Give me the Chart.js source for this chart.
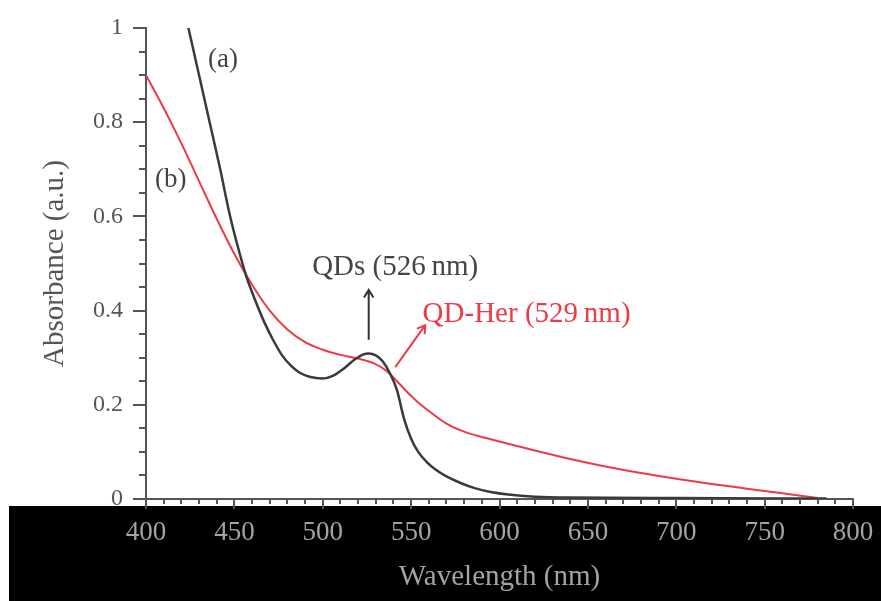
<!DOCTYPE html>
<html>
<head>
<meta charset="utf-8">
<script src="https://cdn.jsdelivr.net/npm/chart.js@4.4.1/dist/chart.umd.min.js"></script>
<style>
  html, body { margin: 0; padding: 0; background: #ffffff; }
  #wrap { width: 881px; height: 601px; position: relative; }
  canvas { display: block; }
</style>
</head>
<body>
<div id="wrap"><canvas id="chart" width="881" height="601"></canvas></div>
<script>
// (a) bare quantum dots: wavelength (nm) and absorbance (a.u.)
const wavelengthsA = [424, 430, 436, 442, 447, 452, 457, 462, 467, 472, 477, 482, 487, 493, 500, 506, 512, 518, 523, 526, 530, 534, 538, 542, 546, 550, 554, 559, 564, 570, 578, 586, 595, 605, 620, 640, 700, 785];
const absorbanceA  = [1.0, 0.90, 0.80, 0.70, 0.61, 0.535, 0.47, 0.42, 0.375, 0.337, 0.305, 0.283, 0.268, 0.259, 0.256, 0.262, 0.277, 0.296, 0.307, 0.309, 0.305, 0.292, 0.267, 0.231, 0.170, 0.128, 0.100, 0.078, 0.062, 0.048, 0.034, 0.023, 0.015, 0.0095, 0.005, 0.003, 0.002, 0.001];

// (b) QD-Her conjugate
const wavelengthsB = [400, 410, 420, 430, 440, 450, 460, 470, 480, 490, 500, 510, 520, 529, 536, 542, 548, 554, 560, 570, 580, 600, 620, 640, 660, 680, 700, 720, 740, 760, 780];
const absorbanceB  = [0.90, 0.83, 0.755, 0.675, 0.595, 0.52, 0.455, 0.400, 0.360, 0.333, 0.317, 0.306, 0.298, 0.288, 0.272, 0.250, 0.226, 0.205, 0.187, 0.160, 0.143, 0.122, 0.103, 0.085, 0.069, 0.055, 0.043, 0.032, 0.022, 0.012, 0.002];

// Axis ranges and tick steps
const xRange = [400, 800];
const yRange = [0, 1];
const xMajorStep = 50, xMinorStep = 10;
const yMajorStep = 0.2, yMinorStep = 0.05;

// Peak positions quoted in the annotations
const qdPeak = 526;
const qdHerPeak = 529;

const AXIS_COLOR = '#555555';
const BLACK_LINE = '#3a3a3a';
const RED_LINE = '#ec3b47';
const SERIF = '"Liberation Serif", "Times New Roman", serif';

function toPoints(xs, ys) { return xs.map((x, i) => ({ x: x, y: ys[i] })); }

const frame = {
  id: 'frame',
  beforeDraw(chart) {
    const ctx = chart.ctx;
    ctx.save();
    ctx.fillStyle = '#ffffff';
    ctx.fillRect(0, 0, chart.width, chart.height);
    // dark band behind the wavelength axis labels
    ctx.fillStyle = '#000000';
    ctx.fillRect(9, 506, chart.width - 9, chart.height - 506);
    ctx.restore();
  },
  afterDraw(chart) {
    const ctx = chart.ctx;
    const xs = chart.scales.x, ys = chart.scales.y;
    const area = chart.chartArea;
    ctx.save();
    ctx.strokeStyle = AXIS_COLOR;
    ctx.lineWidth = 2;
    // y ticks pointing outward
    const ny = Math.round((yRange[1] - yRange[0]) / yMinorStep);
    for (let i = 0; i <= ny; i++) {
      const v = yRange[0] + i * yMinorStep;
      const major = i % Math.round(yMajorStep / yMinorStep) === 0;
      const py = Math.round(ys.getPixelForValue(v));
      ctx.beginPath();
      ctx.moveTo(area.left - (major ? 13 : 7), py);
      ctx.lineTo(area.left, py);
      ctx.stroke();
    }
    // x ticks pointing outward
    const nx = Math.round((xRange[1] - xRange[0]) / xMinorStep);
    for (let i = 0; i <= nx; i++) {
      const v = xRange[0] + i * xMinorStep;
      const major = i % Math.round(xMajorStep / xMinorStep) === 0;
      const px = Math.round(xs.getPixelForValue(v));
      ctx.beginPath();
      ctx.moveTo(px, area.bottom);
      ctx.lineTo(px, area.bottom + (major ? 10 : 5));
      ctx.stroke();
    }

    // arrows and peak annotations
    function arrow(x0, y0, x1, y1, color) {
      const a = Math.atan2(y1 - y0, x1 - x0);
      const h = 9;
      ctx.strokeStyle = color;
      ctx.lineWidth = 2;
      ctx.beginPath();
      ctx.moveTo(x0, y0);
      ctx.lineTo(x1, y1);
      ctx.moveTo(x1 - h * Math.cos(a - 0.55), y1 - h * Math.sin(a - 0.55));
      ctx.lineTo(x1, y1);
      ctx.lineTo(x1 - h * Math.cos(a + 0.55), y1 - h * Math.sin(a + 0.55));
      ctx.stroke();
    }
    const X = v => xs.getPixelForValue(v);
    const Y = v => ys.getPixelForValue(v);

    arrow(X(qdPeak), Y(0.338), X(qdPeak), Y(0.444), '#333333');
    arrow(X(541), Y(0.280), X(558), Y(0.369), RED_LINE);

    ctx.font = '29px ' + SERIF;
    ctx.textBaseline = 'middle';
    ctx.textAlign = 'center';
    ctx.fillStyle = '#444444';
    ctx.fillText('QDs (' + qdPeak + '\u2009nm)', X(541), Y(0.492));
    ctx.textAlign = 'left';
    ctx.fillStyle = RED_LINE;
    ctx.fillText('QD-Her (' + qdHerPeak + '\u2009nm)', X(556.5), Y(0.393));

    ctx.font = '27px ' + SERIF;
    ctx.textAlign = 'center';
    ctx.fillStyle = '#444444';
    ctx.fillText('(a)', X(443.6), Y(0.932));
    ctx.fillText('(b)', X(414), Y(0.677));
    ctx.restore();
  }
};

new Chart(document.getElementById('chart'), {
  type: 'line',
  data: {
    datasets: [
      {
        label: '(a) QDs',
        data: toPoints(wavelengthsA, absorbanceA),
        borderColor: BLACK_LINE,
        borderWidth: 2.5,
        pointRadius: 0,
        cubicInterpolationMode: 'monotone',
        fill: false
      },
      {
        label: '(b) QD-Her',
        data: toPoints(wavelengthsB, absorbanceB),
        borderColor: RED_LINE,
        borderWidth: 2,
        pointRadius: 0,
        cubicInterpolationMode: 'monotone',
        fill: false
      }
    ]
  },
  options: {
    responsive: false,
    animation: false,
    devicePixelRatio: 1,
    layout: { padding: { top: 28, right: 28, left: 0, bottom: 0 } },
    plugins: { legend: { display: false }, tooltip: { enabled: false } },
    scales: {
      x: {
        type: 'linear',
        min: xRange[0], max: xRange[1],
        grid: { display: false, drawTicks: false },
        border: { display: true, color: AXIS_COLOR, width: 2 },
        ticks: {
          stepSize: xMajorStep,
          padding: 18,
          color: '#a3a3a3',
          font: { family: SERIF, size: 27 },
          maxRotation: 0,
          callback: v => String(v)
        },
        title: {
          display: true,
          text: 'Wavelength (nm)',
          color: '#a3a3a3',
          font: { family: SERIF, size: 29 },
          padding: { top: 0, bottom: 6 }
        },
        afterFit(scale) {
          scale.height = 102;
          scale.paddingLeft = 0;
          scale.paddingRight = 0;
        }
      },
      y: {
        type: 'linear',
        min: yRange[0], max: yRange[1],
        grid: { display: false, drawTicks: false },
        border: { display: true, color: AXIS_COLOR, width: 2 },
        ticks: {
          stepSize: yMajorStep,
          padding: 23,
          color: '#555555',
          font: { family: SERIF, size: 24 },
          callback: v => String(Math.round(v * 10) / 10)
        },
        title: {
          display: true,
          text: 'Absorbance (a.u.)',
          color: '#555555',
          font: { family: SERIF, size: 29 },
          padding: { top: 38, bottom: 0 }
        },
        afterFit(scale) {
          scale.width = 146;
          scale.paddingTop = 0;
          scale.paddingBottom = 0;
        }
      }
    }
  },
  plugins: [frame]
});
</script>
</body>
</html>
